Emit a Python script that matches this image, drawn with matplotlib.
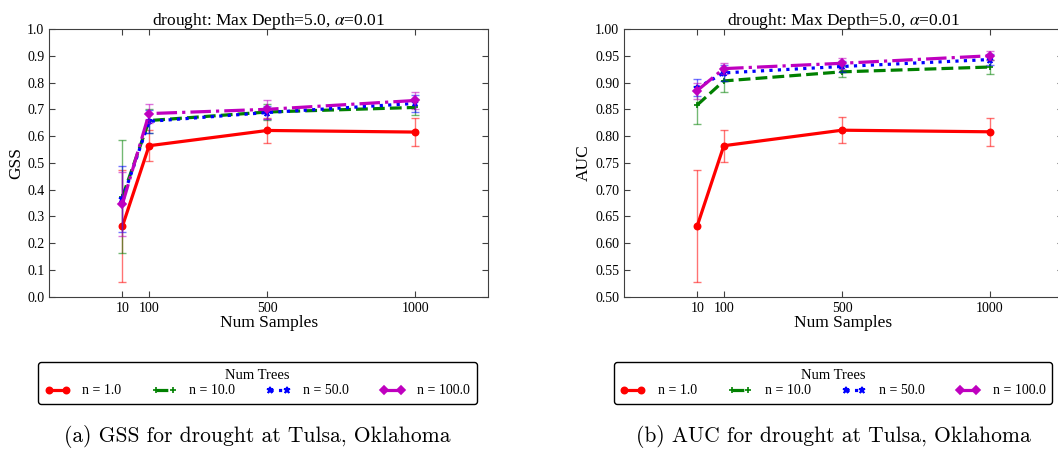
import matplotlib
matplotlib.use('Agg')
import matplotlib.pyplot as plt
from matplotlib.colors import to_rgba
import numpy as np

plt.rcParams['font.family'] = ['Liberation Serif', 'DejaVu Serif']
plt.rcParams['mathtext.fontset'] = 'stix'

samples = [10, 100, 500, 1000]
labels = ['n = 1.0', 'n = 10.0', 'n = 50.0', 'n = 100.0']
colors = ['red', 'green', 'blue', 'm']
styles = ['-', '--', ':', '-.']
markers = ['o', '+', '*', 'D']

gss = [
    [0.264, 0.564, 0.621, 0.615],
    [0.374, 0.658, 0.690, 0.707],
    [0.365, 0.655, 0.688, 0.722],
    [0.347, 0.684, 0.700, 0.733],
]
gss_err = [
    [0.210, 0.058, 0.046, 0.051],
    [0.210, 0.045, 0.030, 0.030],
    [0.125, 0.042, 0.025, 0.033],
    [0.120, 0.035, 0.036, 0.032],
]
auc = [
    [0.632, 0.782, 0.811, 0.808],
    [0.858, 0.903, 0.920, 0.929],
    [0.890, 0.918, 0.930, 0.943],
    [0.885, 0.926, 0.936, 0.950],
]
auc_err = [
    [0.105, 0.030, 0.024, 0.026],
    [0.035, 0.020, 0.010, 0.013],
    [0.016, 0.015, 0.010, 0.010],
    [0.015, 0.010, 0.010, 0.008],
]

fig = plt.figure(figsize=(10.58, 4.49), dpi=100)
ax1 = fig.add_axes([0.0466, 0.3392, 0.415, 0.5962])
ax2 = fig.add_axes([0.5898, 0.3392, 0.415, 0.5962])


def draw(ax, vals, errs, ylab, yticks, fmt):
    for v, e, c, ls, mk, lab in zip(vals, errs, colors, styles, markers, labels):
        ax.errorbar(samples, v, yerr=e, fmt='none', ecolor=to_rgba(c, 0.55),
                    elinewidth=1, capsize=3, capthick=1)
        ax.plot(samples, v, color=c, linestyle=ls, marker=mk, linewidth=2.3,
                markersize=4.5, markeredgewidth=1.2, label=lab)
    ax.set_xlim(-237.5, 1247.5)
    ax.set_xticks(samples)
    ax.set_ylim(yticks[0], yticks[-1])
    ax.set_yticks(yticks)
    ax.set_yticklabels([fmt % t for t in yticks])
    ax.tick_params(direction='in', top=True, right=True, labelsize=10,
                   length=4, color='0.25')
    for s in ax.spines.values():
        s.set_color('0.25')
    ax.set_xlabel('Num Samples', fontsize=12.5, labelpad=0)
    ax.set_ylabel(ylab, fontsize=12.5, labelpad=2)
    ax.set_title(r'drought: Max Depth=5.0, $\alpha$=0.01', fontsize=12.5, pad=3)


draw(ax1, gss, gss_err, 'GSS', np.round(np.arange(0, 1.01, 0.1), 2), '%.1f')
draw(ax2, auc, auc_err, 'AUC', np.round(np.arange(0.5, 1.001, 0.05), 2), '%.2f')

for ax, xc in [(ax1, 0.2434), (ax2, 0.7873)]:
    leg = ax.legend(loc='center', bbox_to_anchor=(xc, 0.147),
                    bbox_transform=fig.transFigure, ncol=4, numpoints=2,
                    title='Num Trees', fontsize=10, title_fontsize=10.5,
                    handlelength=1.8, handletextpad=0.9, columnspacing=2.2,
                    borderpad=0.45, labelspacing=0.2, fancybox=True,
                    framealpha=1)
    leg.get_frame().set_edgecolor('black')

fig.text(0.2434, 0.027, '(a) GSS for drought at Tulsa, Oklahoma',
         family='cmr10', fontsize=15.5, ha='center', va='center')
fig.text(0.7873, 0.027, '(b) AUC for drought at Tulsa, Oklahoma',
         family='cmr10', fontsize=15.5, ha='center', va='center')

fig.savefig('out.png', dpi=100)
